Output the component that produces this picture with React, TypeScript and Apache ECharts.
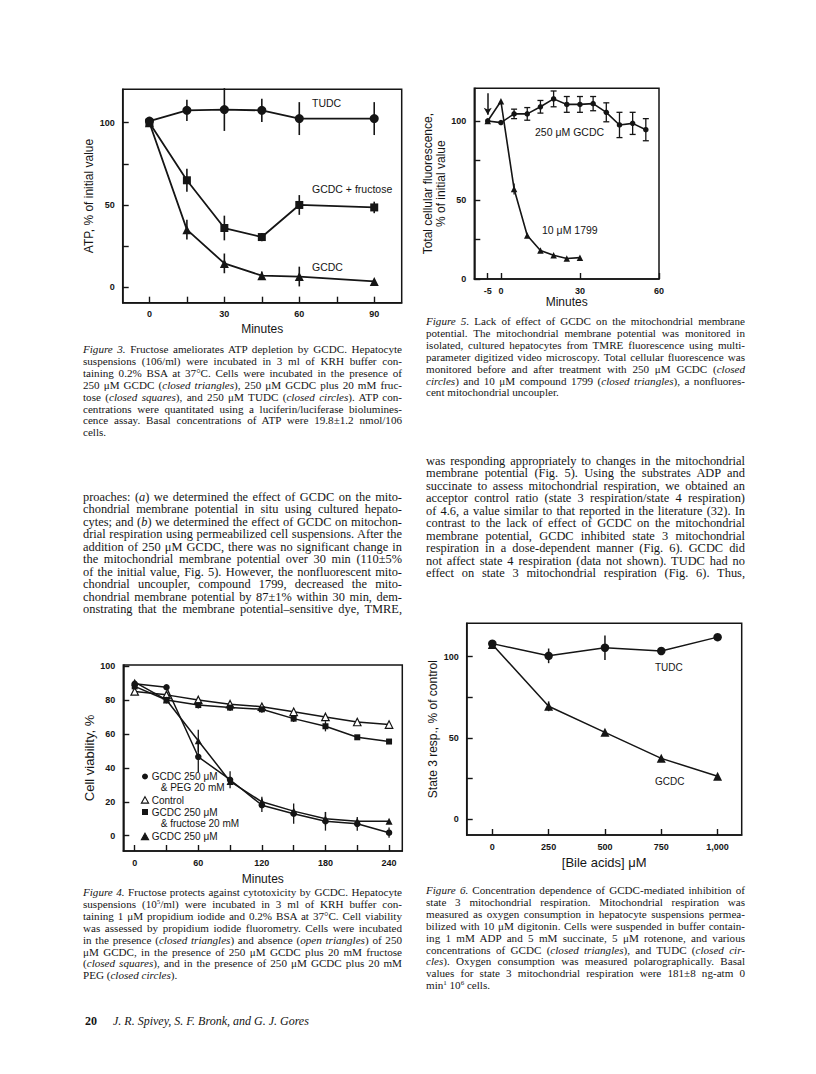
import React, { useEffect, useRef } from "react";
import * as echarts from "echarts";

// ---------- Figure 3: ATP ----------
const fig3Minutes = [0, 15, 30, 45, 60, 90];
const fig3TUDC = [101, 107.5, 108, 107.5, 102.5, 102.5];
const fig3TUDCErr = [0, 6.5, 13, 7, 10, 10];
const fig3Fructose = [100, 65, 36, 30.5, 50, 48.5];
const fig3FructoseErr = [0, 7, 7.5, 2.5, 6, 3.5];
const fig3GCDC = [100, 35, 14.5, 7, 6.5, 3.5];
const fig3GCDCErr = [0, 6, 6, 2.5, 6, 0];
const fig3XTicks = [0, 15, 30, 45, 60, 75, 90];
const fig3XLabels = [0, 30, 60, 90];
const fig3YTicks = [0, 25, 50, 75, 100];
const fig3YLabels = [0, 50, 100];

// ---------- Figure 5: fluorescence ----------
const fig5MinutesGCDC = [-5, 0, 5, 10, 15, 20, 25, 30, 35, 40, 45, 50, 55];
const fig5GCDC = [100, 99, 104.5, 104.5, 109, 114, 110.5, 110.5, 111, 105.5, 97.5, 98.5, 94.5];
const fig5GCDCErr = [0, 0, 3, 4, 4, 5, 5, 5, 4.5, 6, 8, 7, 7];
const fig5Minutes1799 = [-5, 0, 5, 10, 15, 20, 25, 30];
const fig5C1799 = [100, 112.5, 57, 27.5, 18, 15, 13, 13.5];
const fig5C1799Err = [0, 0, 3.5, 0, 0, 0, 0, 0];
const fig5XTicks = [-5, 0, 30, 60];
const fig5XLabels = [-5, 0, 30, 60];
const fig5YTicks = [0, 25, 50, 75, 100];
const fig5YLabels = [0, 50, 100];

// ---------- Figure 4: viability ----------
const fig4Minutes = [0, 30, 60, 90, 120, 150, 180, 210, 240];
const fig4PEG = [89.5, 87.5, 46.5, 33, 18, 13, 8.5, 7, 1.8];
const fig4PEGErr = [0, 0, 9, 5, 4, 6, 5.5, 4, 3];
const fig4Control = [85, 83, 80, 77.5, 76, 73, 70, 67, 65.5];
const fig4Fructose = [88, 80, 77, 75.5, 74.5, 69, 64.5, 58, 55.5];
const fig4FructoseErr = [0, 2, 2, 2, 2, 2, 3, 0, 0];
const fig4GCDC = [90.5, 80, 56, 32, 20, 14.5, 10, 8.5, 8.5];
const fig4GCDCErr = [0, 0, 6.5, 0, 3, 0, 4, 0, 0];
const fig4XTicks = [0, 30, 60, 90, 120, 150, 180, 210, 240];
const fig4XLabels = [0, 60, 120, 180, 240];
const fig4YTicks = [0, 20, 40, 60, 80, 100];

// ---------- Figure 6: state 3 respiration ----------
const fig6Conc = [0, 250, 500, 750, 1000];
const fig6TUDC = [108, 100.5, 105.5, 103.5, 112];
const fig6TUDCErr = [0, 4.5, 7.5, 0, 0];
const fig6GCDC = [107.5, 69.5, 53.5, 37.5, 26.5];
const fig6GCDCErr = [0, 3, 0, 0, 0];
const fig6XTicks = [0, 250, 500, 750, 1000];
const fig6YTicks = [0, 25, 50, 75, 100];
const fig6YLabels = [0, 50, 100];

// ---------- Text ----------
const SUP = (s: string) => `<span style="font-size:7px;line-height:0;position:relative;top:-4px">${s}</span>`;

const fig3Caption = [
  "<i>Figure 3.</i> Fructose ameliorates ATP depletion by GCDC. Hepatocyte",
  "suspensions (106/ml) were incubated in 3 ml of KRH buffer con-",
  "taining 0.2% BSA at 37°C. Cells were incubated in the presence of",
  "250 μM GCDC (<i>closed triangles</i>), 250 μM GCDC plus 20 mM fruc-",
  "tose (<i>closed squares</i>), and 250 μM TUDC (<i>closed circles</i>). ATP con-",
  "centrations were quantitated using a luciferin/luciferase biolumines-",
  "cence assay. Basal concentrations of ATP were 19.8±1.2 nmol/106",
  "cells.",
];
const fig5Caption = [
  "<i>Figure 5.</i> Lack of effect of GCDC on the mitochondrial membrane",
  "potential. The mitochondrial membrane potential was monitored in",
  "isolated, cultured hepatocytes from TMRE fluorescence using multi-",
  "parameter digitized video microscopy. Total cellular fluorescence was",
  "monitored before and after treatment with 250 μM GCDC (<i>closed</i>",
  "<i>circles</i>) and 10 μM compound 1799 (<i>closed triangles</i>), a nonfluores-",
  "cent mitochondrial uncoupler.",
];
const leftBody = [
  "proaches: (<i>a</i>) we determined the effect of GCDC on the mito-",
  "chondrial membrane potential in situ using cultured hepato-",
  "cytes; and (<i>b</i>) we determined the effect of GCDC on mitochon-",
  "drial respiration using permeabilized cell suspensions. After the",
  "addition of 250 μM GCDC, there was no significant change in",
  "the mitochondrial membrane potential over 30 min (110±5%",
  "of the initial value, Fig. 5). However, the nonfluorescent mito-",
  "chondrial uncoupler, compound 1799, decreased the mito-",
  "chondrial membrane potential by 87±1% within 30 min, dem-",
  "onstrating that the membrane potential–sensitive dye, TMRE,",
];
const rightBody = [
  "was responding appropriately to changes in the mitochondrial",
  "membrane potential (Fig. 5). Using the substrates ADP and",
  "succinate to assess mitochondrial respiration, we obtained an",
  "acceptor control ratio (state 3 respiration/state 4 respiration)",
  "of 4.6, a value similar to that reported in the literature (32). In",
  "contrast to the lack of effect of GCDC on the mitochondrial",
  "membrane potential, GCDC inhibited state 3 mitochondrial",
  "respiration in a dose-dependent manner (Fig. 6). GCDC did",
  "not affect state 4 respiration (data not shown). TUDC had no",
  "effect on state 3 mitochondrial respiration (Fig. 6). Thus,",
];
const fig4Caption = [
  "<i>Figure 4.</i> Fructose protects against cytotoxicity by GCDC. Hepatocyte",
  `suspensions (10${SUP("5")}/ml) were incubated in 3 ml of KRH buffer con-`,
  "taining 1 μM propidium iodide and 0.2% BSA at 37°C. Cell viability",
  "was assessed by propidium iodide fluorometry. Cells were incubated",
  "in the presence (<i>closed triangles</i>) and absence (<i>open triangles</i>) of 250",
  "μM GCDC, in the presence of 250 μM GCDC plus 20 mM fructose",
  "(<i>closed squares</i>), and in the presence of 250 μM GCDC plus 20 mM",
  "PEG (<i>closed circles</i>).",
];
const fig6Caption = [
  "<i>Figure 6.</i> Concentration dependence of GCDC-mediated inhibition of",
  "state 3 mitochondrial respiration. Mitochondrial respiration was",
  "measured as oxygen consumption in hepatocyte suspensions permea-",
  "bilized with 10 μM digitonin. Cells were suspended in buffer contain-",
  "ing 1 mM ADP and 5 mM succinate, 5 μM rotenone, and various",
  "concentrations of GCDC (<i>closed triangles</i>), and TUDC (<i>closed cir-</i>",
  "<i>cles</i>). Oxygen consumption was measured polarographically. Basal",
  "values for state 3 mitochondrial respiration were 181±8 ng-atm 0",
  `min${SUP("1")} 10${SUP("6")} cells.`,
];

const INK = "#151515";
const SANS = '"Liberation Sans", Arial, sans-serif';

const pairs = (xs: number[], ys: number[]) => xs.map((x, i) => [x, ys[i]]);
const errData = (xs: number[], ys: number[], es: number[]) =>
  xs.map((x, i) => [x, ys[i] - es[i], ys[i] + es[i], es[i]]).filter((d) => d[3] > 0);

function errSeries(xs: number[], ys: number[], es: number[], idx: number, cap: number, width: number) {
  return {
    type: "custom",
    xAxisIndex: idx,
    yAxisIndex: idx,
    silent: true,
    z: 2,
    data: errData(xs, ys, es),
    renderItem: (_p: any, api: any) => {
      const lo = api.coord([api.value(0), api.value(1)]);
      const hi = api.coord([api.value(0), api.value(2)]);
      const st = { stroke: INK, lineWidth: width };
      const children: any[] = [
        { type: "line", shape: { x1: lo[0], y1: lo[1], x2: hi[0], y2: hi[1] }, style: st },
      ];
      if (cap > 0) {
        children.push({ type: "line", shape: { x1: lo[0] - cap, y1: lo[1], x2: lo[0] + cap, y2: lo[1] }, style: st });
        children.push({ type: "line", shape: { x1: hi[0] - cap, y1: hi[1], x2: hi[0] + cap, y2: hi[1] }, style: st });
      }
      return { type: "group", children };
    },
  };
}

function lineSeries(name: string, data: number[][], idx: number, symbol: string, size: number, width: number, fill = INK) {
  return {
    name,
    type: "line",
    xAxisIndex: idx,
    yAxisIndex: idx,
    data,
    symbol,
    symbolSize: size,
    showSymbol: true,
    z: 3,
    itemStyle: { color: fill, borderColor: INK, borderWidth: fill === INK ? 0 : 1.2, opacity: 1 },
    lineStyle: { color: INK, width },
  };
}

function xAxisDef(idx: number, min: number, max: number, ticks: number[], labels: number[], name: string, gap: number, nameSize = 12, fmt?: (v: number) => string) {
  return {
    type: "value",
    gridIndex: idx,
    min,
    max,
    name,
    nameLocation: "middle",
    nameGap: gap,
    nameTextStyle: { fontSize: nameSize, color: INK, fontFamily: SANS },
    axisLine: { show: true, onZero: false, lineStyle: { color: INK, width: 1.5 } },
    axisTick: { show: true, inside: true, length: 6, lineStyle: { color: INK, width: 1.4 }, customValues: ticks },
    axisLabel: { customValues: labels, fontSize: 9, fontWeight: "bold", color: INK, margin: 7, fontFamily: SANS, formatter: fmt },
    splitLine: { show: false },
  };
}

function yAxisDef(idx: number, min: number, max: number, ticks: number[], labels: number[], name: string, gap: number, nameSize = 12) {
  return {
    type: "value",
    gridIndex: idx,
    min,
    max,
    name,
    nameLocation: "middle",
    nameGap: gap,
    nameRotate: 90,
    nameTextStyle: { fontSize: nameSize, color: INK, fontFamily: SANS, lineHeight: 13 },
    axisLine: { show: true, onZero: false, lineStyle: { color: INK, width: 1.5 } },
    axisTick: { show: true, inside: true, length: 6, lineStyle: { color: INK, width: 1.4 }, customValues: ticks },
    axisLabel: { customValues: labels, fontSize: 9, fontWeight: "bold", color: INK, margin: 8, fontFamily: SANS },
    splitLine: { show: false },
  };
}

const gridStyle = { show: true, borderColor: INK, borderWidth: 1.5, backgroundColor: "transparent" };

function label(text: string, x: number, y: number, size = 10.5) {
  return { type: "text", x, y, silent: true, style: { text, fill: INK, fontSize: size, fontFamily: SANS, verticalAlign: "middle", align: "left" } };
}

const tri = (cx: number, cy: number, r: number, fill: string) => ({
  type: "polygon",
  silent: true,
  shape: { points: [[cx, cy - r], [cx + r * 0.95, cy + r * 0.7], [cx - r * 0.95, cy + r * 0.7]] },
  style: { fill, stroke: INK, lineWidth: 1.1 },
});

const option: any = {
  animation: false,
  backgroundColor: "#ffffff",
  textStyle: { fontFamily: SANS },
  grid: [
    { ...gridStyle, left: 122.7, top: 89.3, width: 279, height: 213.4 },
    { ...gridStyle, left: 474.3, top: 88.3, width: 184.7, height: 190.7 },
    { ...gridStyle, left: 123.3, top: 665, width: 279, height: 186 },
    { ...gridStyle, left: 466.7, top: 623.3, width: 275, height: 211.7 },
  ],
  xAxis: [
    xAxisDef(0, -10.7, 101, fig3XTicks, fig3XLabels, "Minutes", 20),
    xAxisDef(1, -10.1, 60, fig5XTicks, fig5XLabels, "Minutes", 17),
    xAxisDef(2, -10.75, 252.5, fig4XTicks, fig4XLabels, "Minutes", 22),
    xAxisDef(3, -113.7, 1107, fig6XTicks, fig6XTicks, "[Bile acids] μM", 21, 13, (v: number) => (v >= 1000 ? "1,000" : String(v))),
  ],
  yAxis: [
    yAxisDef(0, -9.4, 120.3, fig3YTicks, fig3YLabels, "ATP, % of initial value", 19),
    yAxisDef(1, 0, 120.7, fig5YTicks, fig5YLabels, "Total cellular fluorescence,\n% of initial value", 17),
    yAxisDef(2, -9, 100.6, fig4YTicks, fig4YTicks, "Cell viability, %", 22, 13),
    yAxisDef(3, -9.6, 120.5, fig6YTicks, fig6YLabels, "State 3 resp., % of control", 24),
  ],
  series: [
    // Fig 3
    errSeries(fig3Minutes, fig3TUDC, fig3TUDCErr, 0, 0, 1.6),
    errSeries(fig3Minutes, fig3Fructose, fig3FructoseErr, 0, 0, 1.6),
    errSeries(fig3Minutes, fig3GCDC, fig3GCDCErr, 0, 0, 1.6),
    lineSeries("TUDC", pairs(fig3Minutes, fig3TUDC), 0, "circle", 9, 1.8),
    lineSeries("GCDC + fructose", pairs(fig3Minutes, fig3Fructose), 0, "rect", 8, 1.8),
    lineSeries("GCDC", pairs(fig3Minutes, fig3GCDC), 0, "triangle", 9, 1.8),
    // Fig 5
    errSeries(fig5MinutesGCDC, fig5GCDC, fig5GCDCErr, 1, 3, 1.3),
    errSeries(fig5Minutes1799, fig5C1799, fig5C1799Err, 1, 0, 1.3),
    {
      ...lineSeries("250 μM GCDC", pairs(fig5MinutesGCDC, fig5GCDC), 1, "circle", 5.5, 1.6),
      markLine: {
        silent: true,
        symbol: ["none", "arrow"],
        symbolSize: [6, 7],
        label: { show: false },
        lineStyle: { color: INK, width: 1.5, type: "solid" },
        data: [[{ coord: [-5, 117.5] }, { coord: [-5, 104] }]],
      },
    },
    lineSeries("10 μM 1799", pairs(fig5Minutes1799, fig5C1799), 1, "triangle", 6.5, 1.6),
    // Fig 4
    errSeries(fig4Minutes, fig4PEG, fig4PEGErr, 2, 0, 1.3),
    errSeries(fig4Minutes, fig4Fructose, fig4FructoseErr, 2, 0, 1.3),
    errSeries(fig4Minutes, fig4GCDC, fig4GCDCErr, 2, 0, 1.3),
    lineSeries("Control", pairs(fig4Minutes, fig4Control), 2, "triangle", 7.5, 1.5, "#ffffff"),
    lineSeries("GCDC 250 μM & fructose 20 mM", pairs(fig4Minutes, fig4Fructose), 2, "rect", 6, 1.5),
    lineSeries("GCDC 250 μM & PEG 20 mM", pairs(fig4Minutes, fig4PEG), 2, "circle", 6.5, 1.5),
    lineSeries("GCDC 250 μM", pairs(fig4Minutes, fig4GCDC), 2, "triangle", 7, 1.5),
    // Fig 6
    errSeries(fig6Conc, fig6TUDC, fig6TUDCErr, 3, 0, 1.5),
    errSeries(fig6Conc, fig6GCDC, fig6GCDCErr, 3, 0, 1.5),
    lineSeries("TUDC ", pairs(fig6Conc, fig6TUDC), 3, "circle", 8.5, 1.5),
    lineSeries("GCDC ", pairs(fig6Conc, fig6GCDC), 3, "triangle", 9, 1.5),
  ],
  graphic: [
    // Fig 3 labels
    label("TUDC", 312, 103),
    label("GCDC + fructose", 312, 189),
    label("GCDC", 312, 267),
    // Fig 5 labels
    label("250 μM GCDC", 535, 132),
    label("10 μM 1799", 542, 230),
    // Fig 6 labels
    label("TUDC", 655, 667, 10),
    label("GCDC", 655, 781, 10),
    // Fig 4 legend
    { type: "circle", silent: true, shape: { cx: 145, cy: 776.5, r: 3 }, style: { fill: INK } },
    label("GCDC 250 μM", 151.7, 776.5, 10),
    label("& PEG 20 mM", 160.7, 787.5, 10),
    tri(145, 800.5, 3.8, "#ffffff"),
    label("Control", 151.7, 800, 10),
    { type: "rect", silent: true, shape: { x: 142, y: 809, width: 6, height: 6 }, style: { fill: INK } },
    label("GCDC 250 μM", 151.7, 812, 10),
    label("& fructose 20 mM", 160.7, 823, 10),
    tri(145, 837, 3.8, INK),
    label("GCDC 250 μM", 151.7, 836.7, 10),
  ],
};

type LinesProps = { x: number; y: number; step: number; size: number; width: number; lines: string[]; justifyLast?: boolean };

function Lines({ x, y, step, size, width, lines, justifyLast = false }: LinesProps) {
  return (
    <>
      {lines.map((ln, i) => {
        const last = i === lines.length - 1 && !justifyLast;
        return (
          <div
            key={i}
            style={{
              position: "absolute",
              left: x,
              top: y - step / 2 + i * step,
              width,
              height: step,
              lineHeight: `${step}px`,
              fontFamily: '"Liberation Serif", "Times New Roman", serif',
              fontSize: size,
              color: INK,
              whiteSpace: "nowrap",
              overflow: "visible",
              textAlign: last ? "left" : "justify",
              textAlignLast: last ? "left" : "justify",
            } as any}
            dangerouslySetInnerHTML={{ __html: ln }}
          />
        );
      })}
    </>
  );
}

export default function App() {
  const ref = useRef<HTMLDivElement>(null);
  useEffect(() => {
    if (!ref.current) return;
    const chart = echarts.init(ref.current, null, { renderer: "svg" });
    chart.setOption(option);
    return () => chart.dispose();
  }, []);
  return (
    <div style={{ position: "absolute", left: 0, top: 0, width: 816, height: 1074, background: "#fff", overflow: "hidden" }}>
      <div ref={ref} style={{ position: "absolute", left: 0, top: 0, width: 816, height: 1074 }} />
      <Lines x={83} y={350} step={11.9} size={11.1} width={319} lines={fig3Caption} />
      <Lines x={426} y={322} step={11.9} size={11.1} width={319} lines={fig5Caption} />
      <Lines x={83} y={497} step={12.5} size={12.4} width={319} lines={leftBody} justifyLast />
      <Lines x={426} y={461} step={12.5} size={12.4} width={319} lines={rightBody} justifyLast />
      <Lines x={83} y={893} step={11.9} size={11.1} width={319} lines={fig4Caption} />
      <Lines x={426} y={891} step={11.9} size={11.1} width={319} lines={fig6Caption} />
      <div style={{ position: "absolute", left: 85, top: 1014, fontFamily: '"Liberation Serif", serif', fontSize: 12, color: INK, whiteSpace: "nowrap" }}>
        <span style={{ fontWeight: "bold" }}>20</span>
        <span style={{ marginLeft: 16, fontStyle: "italic" }}>J. R. Spivey, S. F. Bronk, and G. J. Gores</span>
      </div>
    </div>
  );
}
